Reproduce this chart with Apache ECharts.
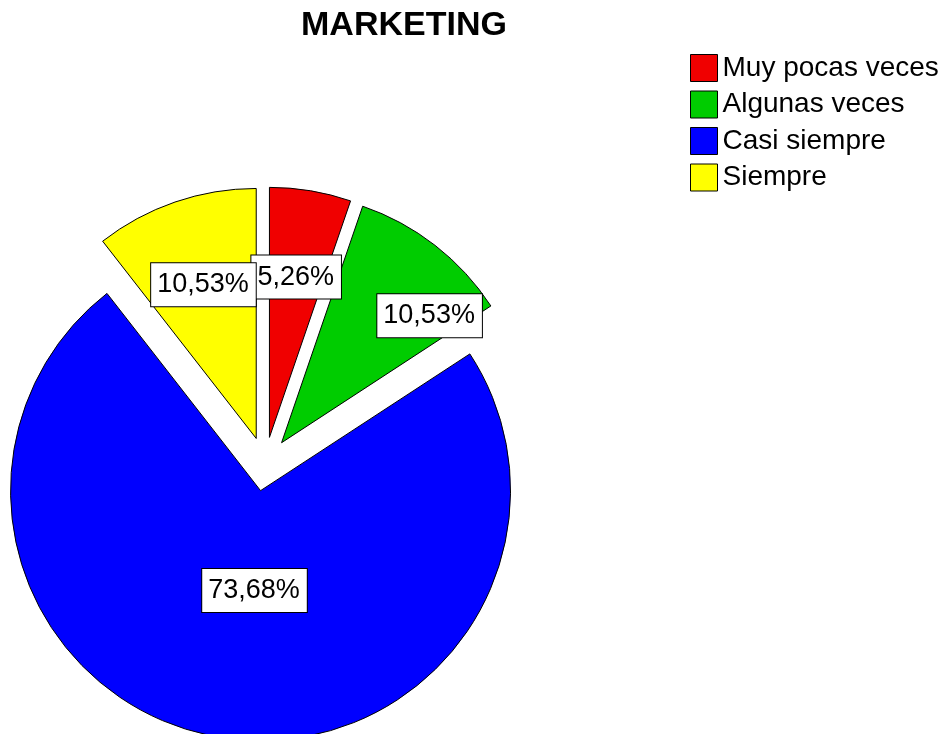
<!DOCTYPE html>
<html>
<head>
<meta charset="utf-8">
<script src="https://cdn.jsdelivr.net/npm/echarts@6/dist/echarts.min.js"></script>
<style>
  html, body { margin: 0; padding: 0; background: #ffffff; }
  #chart { width: 945px; height: 734px; }
</style>
</head>
<body>
<div id="chart"></div>
<script>
// Survey answers for the MARKETING item (percent of respondents)
const categories = ['Muy pocas veces', 'Algunas veces', 'Casi siempre', 'Siempre'];
const percents = [5.26, 10.53, 73.68, 10.53];
const colors = ['#f00000', '#00cc00', '#0000ff', '#ffff00'];

const center = [265, 464];
const radius = 250;
const explode = 27;
// label placement inside each slice: fraction of the radius, and a small turn (degrees, clockwise)
const labelDepth = [0.65, 0.78, 0.4, 0.65];
const labelTurn = [0, 11.5, -6, 0];

const fmt = v => v.toFixed(2).replace('.', ',') + '%';

const chart = echarts.init(document.getElementById('chart'), null, { renderer: 'canvas' });

chart.setOption({
  backgroundColor: '#ffffff',
  animation: false,
  title: {
    text: 'MARKETING',
    left: 296,
    top: 4,
    textStyle: {
      fontFamily: 'Liberation Sans, Arial, sans-serif',
      fontSize: 34,
      fontWeight: 'bold',
      color: '#000000'
    }
  },
  legend: {
    orient: 'vertical',
    left: 690,
    top: 54,
    padding: 0,
    itemWidth: 27,
    itemHeight: 27,
    itemGap: 8.5,
    selectedMode: false,
    data: categories,
    icon: 'rect',
    itemStyle: { borderColor: '#000000', borderWidth: 1 },
    textStyle: {
      fontFamily: 'Liberation Sans, Arial, sans-serif',
      fontSize: 28,
      color: '#000000',
      padding: [0, 0, 0, 0]
    }
  },
  series: [{
    type: 'pie',
    center: center,
    radius: radius,
    startAngle: 90,
    clockwise: true,
    selectedMode: 'multiple',
    selectedOffset: explode,
    emphasis: { disabled: true },
    itemStyle: { borderColor: '#000000', borderWidth: 1 },
    label: {
      show: true,
      position: 'inside',
      formatter: p => fmt(p.value),
      fontFamily: 'Liberation Sans, Arial, sans-serif',
      fontSize: 27,
      color: '#000000',
      backgroundColor: '#ffffff',
      borderColor: '#000000',
      borderWidth: 1,
      padding: [9, 7, 7, 6]
    },
    labelLine: { show: false },
    labelLayout: function (params) {
      const r = params.labelRect;
      const vx = r.x + r.width / 2 - center[0];
      const vy = r.y + r.height / 2 - center[1];
      const len = Math.hypot(vx, vy) || 1;
      const t = labelTurn[params.dataIndex] * Math.PI / 180;
      const k = labelDepth[params.dataIndex] * radius / len;
      const nx = (vx * Math.cos(t) - vy * Math.sin(t)) * k;
      const ny = (vx * Math.sin(t) + vy * Math.cos(t)) * k;
      return { dx: nx - vx, dy: ny - vy };
    },
    data: categories.map((name, i) => ({
      name: name,
      value: percents[i],
      selected: true,
      itemStyle: { color: colors[i] }
    }))
  }]
});
</script>
</body>
</html>
